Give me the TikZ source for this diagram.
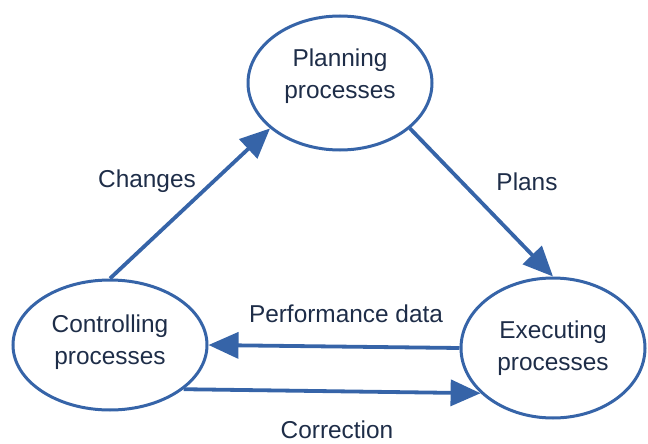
\documentclass[tikz,border=0pt]{standalone}
\usepackage{fontspec}
\setmainfont{Liberation Sans}
\usetikzlibrary{shapes.geometric,arrows.meta}
\definecolor{procblue}{RGB}{54,100,168}
\definecolor{procink}{RGB}{30,45,72}
\begin{document}
\begin{tikzpicture}[x=1pt, y=-1pt,
        proc/.style={ellipse, draw=procblue, line width=3pt, align=center,
            text=procink, font=\fontsize{24.4}{32}\selectfont},
        flow/.style={draw=procblue, line width=3.8pt,
            -{Triangle[length=30pt, width=26pt]}},
        lbl/.style={text=procink, font=\fontsize{24.4}{28}\selectfont}]
        \useasboundingbox (0,0) rectangle (648,444);

        % --- プロセス ---
        \node[proc, text depth=18pt, minimum width=184pt, minimum height=134pt] (plan) at (340,83) {Planning\\processes};
        \node[proc, text depth=11pt, minimum width=194pt, minimum height=130pt] (ctrl) at (110,345) {Controlling\\processes};
        \node[proc, minimum width=184pt, minimum height=140pt] (exec) at (553,348) {Executing\\processes};

        % --- 矢印 ---
        \draw[flow] (ctrl.90) -- (plan.213);
        \draw[flow] (plan.-33) -- (exec.90);
        \draw[flow] (exec.west) -- (ctrl.east);
        \draw[flow] (ctrl.-31) -- (exec.212);

        % --- ラベル ---
        \node[lbl] (lblchanges) at (147,181) {Changes};
        \node[lbl] (lblplans) at (527,182) {Plans};
        \node[lbl] (lblperf) at (346,314) {Performance data};
        \node[lbl] (lblcorr) at (337,430) {Correction};

    \end{tikzpicture}
\end{document}
